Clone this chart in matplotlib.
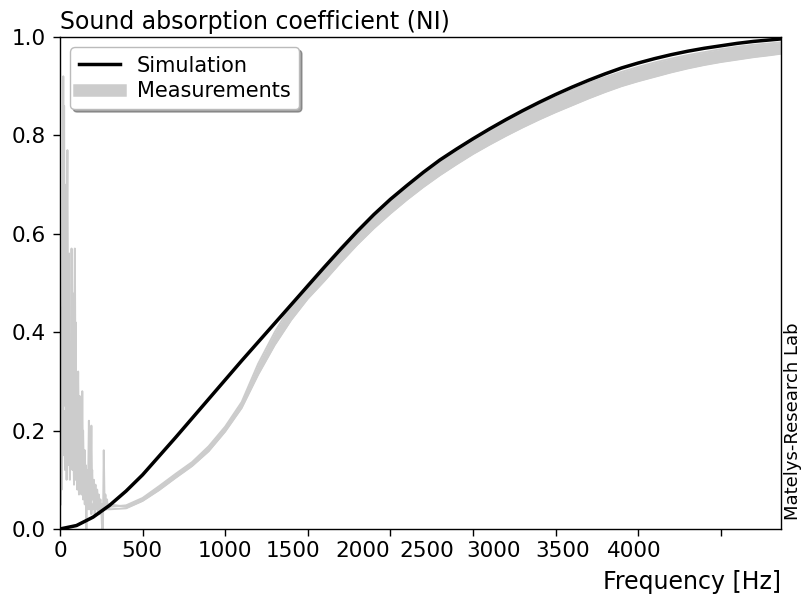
import matplotlib
matplotlib.use("Agg")
import matplotlib.pyplot as plt
import numpy as np
from matplotlib.lines import Line2D

# simulated absorption coefficient, every 100 Hz
f_sim = [0, 100, 200, 300, 400, 500, 600, 700, 800, 900, 1000, 1100, 1200, 1300,
         1400, 1500, 1600, 1700, 1800, 1900, 2000, 2100, 2200, 2300, 2400, 2500,
         2600, 2700, 2800, 2900, 3000, 3100, 3200, 3300, 3400, 3500, 3600, 3700,
         3800, 3900, 4000, 4100, 4200, 4300, 4365]
alpha_sim = [0.000, 0.007, 0.024, 0.048, 0.077, 0.110, 0.148, 0.186, 0.225, 0.264,
             0.303, 0.342, 0.380, 0.418, 0.456, 0.494, 0.532, 0.569, 0.605, 0.639,
             0.670, 0.698, 0.725, 0.750, 0.772, 0.793, 0.813, 0.832, 0.850, 0.867,
             0.883, 0.898, 0.912, 0.925, 0.937, 0.947, 0.956, 0.964, 0.971, 0.977,
             0.982, 0.987, 0.991, 0.994, 0.996]

# measurements: noisy low-frequency part, 5 Hz steps from 5 to 300 Hz
f_low = list(range(5, 305, 5))
m1_low = [0.05, 0.25, 0.60, 0.92, 0.40, 0.70, 0.28, 0.55, 0.77, 0.30,
          0.45, 0.22, 0.38, 0.25, 0.48, 0.20, 0.35, 0.57, 0.22, 0.30,
          0.18, 0.32, 0.15, 0.27, 0.14, 0.22, 0.12, 0.20, 0.10, 0.16,
          0.09, 0.00, 0.12, 0.08, 0.22, 0.07, 0.14, 0.08, 0.12, 0.06,
          0.10, 0.07, 0.09, 0.05, 0.08, 0.06, 0.07, 0.05, 0.06, 0.04,
          0.05, 0.00, 0.16, 0.05, 0.07, 0.04, 0.06, 0.04, 0.05, 0.045]
m2_low = [0.15, 0.45, 0.20, 0.35, 0.86, 0.25, 0.42, 0.18, 0.33, 0.20,
          0.56, 0.17, 0.30, 0.14, 0.26, 0.38, 0.15, 0.24, 0.42, 0.13,
          0.22, 0.12, 0.25, 0.11, 0.19, 0.10, 0.28, 0.09, 0.15, 0.08,
          0.13, 0.07, 0.11, 0.06, 0.10, 0.05, 0.09, 0.21, 0.06, 0.08,
          0.05, 0.07, 0.04, 0.06, 0.05, 0.04, 0.06, 0.03, 0.05, 0.04,
          0.00, 0.05, 0.04, 0.06, 0.05, 0.04, 0.05, 0.05, 0.04, 0.05]
m3_low = [0.30, 0.08, 0.28, 0.15, 0.24, 0.12, 0.30, 0.10, 0.22, 0.13,
          0.25, 0.10, 0.19, 0.57, 0.12, 0.18, 0.09, 0.16, 0.10, 0.20,
          0.08, 0.14, 0.07, 0.12, 0.24, 0.07, 0.11, 0.06, 0.10, 0.05,
          0.09, 0.05, 0.08, 0.04, 0.07, 0.04, 0.06, 0.03, 0.05, 0.04,
          0.06, 0.03, 0.05, 0.04, 0.05, 0.03, 0.05, 0.04, 0.05, 0.03,
          0.05, 0.04, 0.05, 0.04, 0.05, 0.04, 0.05, 0.04, 0.05, 0.04]

# ... and the smooth part (100 Hz steps)
f_high = [400, 500, 600, 700, 800, 900, 1000, 1100, 1200, 1300, 1400, 1500, 1600,
          1700, 1800, 1900, 2000, 2100, 2200, 2300, 2400, 2500, 2600, 2700, 2800,
          2900, 3000, 3100, 3200, 3300, 3400, 3500, 3600, 3700, 3800, 3900, 4000,
          4100, 4200, 4300, 4365]
m1_high = [0.048, 0.063, 0.087, 0.112, 0.136, 0.168, 0.208, 0.258, 0.336, 0.400,
           0.455, 0.497, 0.534, 0.572, 0.607, 0.640, 0.670, 0.698, 0.724, 0.748,
           0.770, 0.790, 0.809, 0.828, 0.846, 0.862, 0.877, 0.892, 0.906, 0.918,
           0.929, 0.939, 0.948, 0.956, 0.963, 0.969, 0.975, 0.980, 0.984, 0.987, 0.989]
m2_high = [0.045, 0.060, 0.083, 0.108, 0.132, 0.163, 0.203, 0.252, 0.325, 0.388,
           0.440, 0.482, 0.518, 0.556, 0.592, 0.625, 0.655, 0.683, 0.709, 0.733,
           0.755, 0.776, 0.795, 0.814, 0.831, 0.847, 0.862, 0.877, 0.891, 0.903,
           0.915, 0.925, 0.934, 0.943, 0.950, 0.957, 0.963, 0.968, 0.972, 0.976, 0.978]
m3_high = [0.042, 0.057, 0.079, 0.104, 0.128, 0.158, 0.198, 0.246, 0.314, 0.374,
           0.425, 0.468, 0.504, 0.542, 0.578, 0.611, 0.641, 0.669, 0.695, 0.719,
           0.741, 0.762, 0.781, 0.799, 0.816, 0.832, 0.847, 0.861, 0.875, 0.888,
           0.900, 0.910, 0.919, 0.928, 0.936, 0.943, 0.949, 0.954, 0.959, 0.963, 0.966]

x_ticks = [0, 500, 1000, 1500, 2000, 2500, 3000, 3500, 4000]
x_ticklabels = ['0', '500', '1000', '1500', '2000', '2500', '3000', '3500', '4000']
# the labels in the original sit packed together, not under their ticks
label_pos = [0, 496, 999, 1410, 1834, 2221, 2627, 3045, 3474]
y_ticks = [0.0, 0.2, 0.4, 0.6, 0.8, 1.0]

gray = '#cccccc'
fs_tick = 15.5
fs_big = 17

fig = plt.figure(figsize=(8.03, 5.99), dpi=100)
ax = fig.add_axes([0.0747, 0.1169, 0.8979, 0.8214])

f_meas = np.concatenate([f_low, f_high])
for lo, hi in [(m1_low, m1_high), (m2_low, m2_high), (m3_low, m3_high)]:
    ax.plot(f_meas, np.concatenate([lo, hi]), color=gray, lw=1.4, zorder=1)
ax.fill_between(f_high, m3_high, m1_high, color=gray, lw=0, zorder=1)

ax.plot(f_sim, alpha_sim, color='black', lw=2.5, zorder=3)

ax.set_xlim(0, 4365)
ax.set_ylim(0, 1)

ax.xaxis.remove_overlapping_locs = False
ax.set_xticks(x_ticks)
ax.set_xticklabels([''] * len(x_ticks))
ax.set_xticks(label_pos, minor=True)
ax.set_xticklabels(x_ticklabels, minor=True)
ax.tick_params(axis='x', which='minor', length=0, pad=9, labelsize=fs_tick)
ax.tick_params(axis='x', which='major', length=5, width=1)
ax.set_yticks(y_ticks)
ax.set_yticklabels([f'{v:.1f}' for v in y_ticks])
ax.tick_params(axis='y', length=5, width=1, pad=5, labelsize=fs_tick)
for s in ax.spines.values():
    s.set_linewidth(1.0)

ax.set_title('Sound absorption coefficient (NI)', loc='left', fontsize=fs_big, pad=6)
ax.set_xlabel('Frequency [Hz]', fontsize=fs_big, loc='right', labelpad=6)

handles = [Line2D([], [], color='black', lw=2.5),
           Line2D([], [], color=gray, lw=9)]
leg = ax.legend(handles, ['Simulation', 'Measurements'], loc='upper left',
                fontsize=15, shadow=True, framealpha=1, borderaxespad=0.5,
                handlelength=2.0, labelspacing=0.25)
leg.get_frame().set_edgecolor('#bbbbbb')

fig.text(0.9875, 0.132, 'Matelys-Research Lab', rotation=90, ha='center',
         va='bottom', fontsize=13)

fig.savefig('out.png', dpi=100)
